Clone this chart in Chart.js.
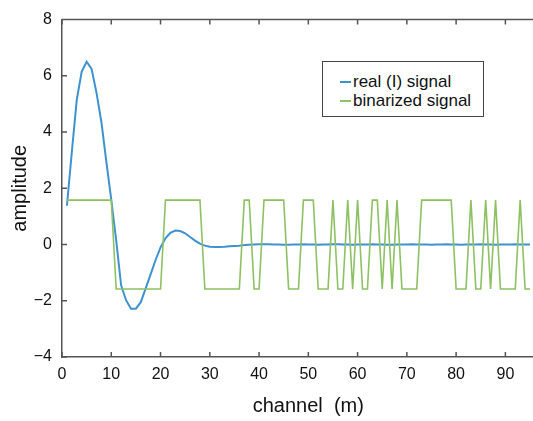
<!DOCTYPE html>
<html>
<head>
<meta charset="utf-8">
<script src="https://cdn.jsdelivr.net/npm/chart.js@4.4.1/dist/chart.umd.min.js"></script>
<style>
    html, body { margin: 0; padding: 0; background: #fff; overflow: hidden; }
    #wrap { position: relative; width: 576px; height: 421px; }
    #legend {
        position: absolute; left: 322px; top: 61px; width: 162px; height: 56px;
        border: 1px solid #444; background: #fff; padding-top: 11px; box-sizing: border-box;
        font: 17px "Liberation Sans", Arial, sans-serif; color: #111;
    }
    .row { display: flex; align-items: center; height: 18.5px; padding-left: 17px; }
    .swatch { width: 11px; height: 0; border-top: 2px solid; margin-right: 2px; }
</style>
</head>
<body>
<div id="wrap">
    <canvas id="chart" width="576" height="421"></canvas>
    <div id="legend"></div>
</div>
<script>
'use strict';

const channels = [
    1, 2, 3, 4, 5, 6, 7, 8, 9, 10, 11, 12, 13, 14, 15, 16, 17, 18, 19, 20,
    21, 22, 23, 24, 25, 26, 27, 28, 29, 30, 31, 32, 33, 34, 35, 36, 37, 38, 39, 40,
    41, 42, 43, 44, 45, 46, 47, 48, 49, 50, 51, 52, 53, 54, 55, 56, 57, 58, 59, 60,
    61, 62, 63, 64, 65, 66, 67, 68, 69, 70, 71, 72, 73, 74, 75, 76, 77, 78, 79, 80,
    81, 82, 83, 84, 85, 86, 87, 88, 89, 90, 91, 92, 93, 94, 95
];

const realSignal = [
    1.38, 3.3, 5.15, 6.15, 6.5, 6.25, 5.4, 4.35, 2.95, 1.6,
    0.15, -1.45, -1.98, -2.28, -2.28, -2.05, -1.55, -1.05, -0.55, -0.1,
    0.22, 0.42, 0.5, 0.48, 0.4, 0.27, 0.14, 0.03, -0.04, -0.08,
    -0.09, -0.09, -0.08, -0.06, -0.05, -0.04, -0.02, -0.01, 0, 0.01,
    0.01, 0.01, 0, 0, -0.01, -0.01, 0, 0, 0.01, 0,
    0, -0.01, 0, 0, 0.01, 0.01, 0, 0, -0.01, 0,
    0, 0, 0.01, 0, 0, -0.01, -0.01, 0, 0, 0,
    0.01, 0, 0, 0, -0.01, 0, 0, 0.01, 0, 0,
    -0.01, 0, 0, 0, 0.01, 0, 0, -0.01, 0, 0,
    0, 0.01, 0, 0, 0
];

const H = 1.58, L = -1.58;
const binarized = [
    H, H, H, H, H, H, H, H, H, H,
    L, L, L, L, L, L, L, L, L, L,
    H, H, H, H, H, H, H, H, L, L,
    L, L, L, L, L, L, H, H, L, L,
    H, H, H, H, H, L, L, L, H, H,
    H, L, L, L, H, L, L, H, L, H,
    L, L, H, H, L, H, L, H, L, L,
    L, L, H, H, H, H, H, H, H, L,
    L, L, H, L, L, H, L, H, L, L,
    L, L, H, L, L
];

const seriesNames = ['real (I) signal', 'binarized signal'];
const seriesColors = ['#3f92d2', '#8dc162'];

const xTicksMax = 100;
const yTicks = [-4, 8];

const font = '"Liberation Sans", Arial, sans-serif';

function toPoints(values) {
    return channels.map((c, i) => ({x: c, y: values[i]}));
}

const innerTicks = {
    id: 'innerTicks',
    afterDatasetsDraw(chart) {
        const {ctx, chartArea: a, scales: {x, y}} = chart;
        ctx.save();
        ctx.strokeStyle = '#555';
        ctx.lineWidth = 1.5;
        ctx.beginPath();
        ctx.moveTo(a.left, a.top);
        ctx.lineTo(a.right, a.top);
        ctx.lineTo(a.right, a.bottom);
        x.ticks.forEach(t => {
            const px = x.getPixelForValue(t.value);
            ctx.moveTo(px, a.bottom);
            ctx.lineTo(px, a.bottom - 5);
            ctx.moveTo(px, a.top);
            ctx.lineTo(px, a.top + 5);
        });
        y.ticks.forEach(t => {
            const py = y.getPixelForValue(t.value);
            ctx.moveTo(a.left, py);
            ctx.lineTo(a.left + 5, py);
            ctx.moveTo(a.right, py);
            ctx.lineTo(a.right - 5, py);
        });
        ctx.stroke();
        ctx.restore();
    }
};

const ctx = document.getElementById('chart').getContext('2d');

const chart = new Chart(ctx, {
    type: 'line',
    data: {
        datasets: [{
            label: seriesNames[0],
            data: toPoints(realSignal),
            borderColor: seriesColors[0],
            borderWidth: 2,
            pointRadius: 0,
            tension: 0,
            order: 1
        }, {
            label: seriesNames[1],
            data: toPoints(binarized),
            borderColor: seriesColors[1],
            borderWidth: 1.6,
            pointRadius: 0,
            tension: 0,
            order: 0
        }]
    },
    options: {
        responsive: false,
        animation: false,
        devicePixelRatio: 1,
        layout: {padding: {top: 15, right: 14, left: 0, bottom: 0}},
        plugins: {
            legend: {display: false},
            tooltip: {enabled: false}
        },
        scales: {
            x: {
                type: 'linear',
                min: 0,
                max: xTicksMax,
                afterFit: s => { s.height = 64; },
                grid: {display: false, drawTicks: false},
                border: {color: '#555', width: 1.5},
                ticks: {stepSize: 10, padding: 8, color: '#111', font: {family: font, size: 16}},
                title: {
                    display: true,
                    text: 'channel  (m)',
                    color: '#111',
                    font: {family: font, size: 20},
                    padding: {top: 0, bottom: 3}
                }
            },
            y: {
                min: yTicks[0],
                max: yTicks[1],
                afterFit: s => { s.width = 62; },
                grid: {display: false, drawTicks: false},
                border: {color: '#555', width: 1.5},
                ticks: {
                    stepSize: 2,
                    padding: 10,
                    color: '#111',
                    font: {family: font, size: 16},
                    callback: v => String(v).replace('-', '\u2212')
                },
                title: {
                    display: true,
                    text: 'amplitude',
                    color: '#111',
                    font: {family: font, size: 20},
                    padding: {top: 8, bottom: 0}
                }
            }
        }
    },
    plugins: [innerTicks]
});

// legend box drawn as html, built from the chart's datasets
const legend = document.getElementById('legend');
chart.data.datasets.forEach(ds => {
    const row = document.createElement('div');
    row.className = 'row';
    const sw = document.createElement('span');
    sw.className = 'swatch';
    sw.style.borderColor = ds.borderColor;
    const label = document.createElement('span');
    label.textContent = ds.label;
    row.appendChild(sw);
    row.appendChild(label);
    legend.appendChild(row);
});
</script>
</body>
</html>
